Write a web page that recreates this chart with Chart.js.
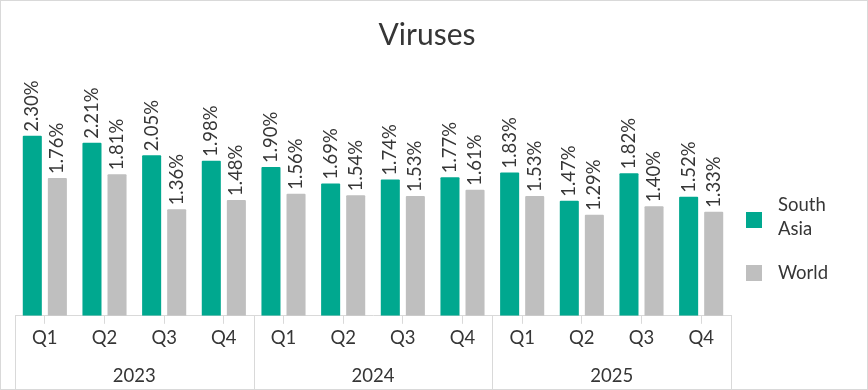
<!DOCTYPE html>
<html>
<head>
<meta charset="utf-8">
<script src="https://cdn.jsdelivr.net/npm/chart.js@4/dist/chart.umd.min.js"></script>
<style>
  html, body { margin: 0; padding: 0; background: #fff; }
  #wrap { position: relative; width: 868px; height: 390px; box-sizing: border-box; border: 1px solid #d9d9d9; }
  canvas { display: block; }
</style>
</head>
<body>
<div id="wrap"><canvas id="c"></canvas></div>
<script>
const categories = ['Q1','Q2','Q3','Q4','Q1','Q2','Q3','Q4','Q1','Q2','Q3','Q4'];
const years = ['2023','2024','2025'];
const seriesNames = ['South Asia','World'];
const southAsia = [2.30,2.21,2.05,1.98,1.90,1.69,1.74,1.77,1.83,1.47,1.82,1.52];
const world = [1.76,1.81,1.36,1.48,1.56,1.54,1.53,1.61,1.53,1.29,1.40,1.33];
const quartersPerYear = 4;
const titleText = 'Viruses';

const FONT = 'Lato, "Open Sans", sans-serif';
const TEXT = '#363636';
const TEAL = '#00A88F';
const GREY = '#BFBFBF';

const dataLabels = {
  id: 'dataLabels',
  afterDatasetsDraw(chart) {
    const ctx = chart.ctx;
    ctx.save();
    ctx.fillStyle = TEXT;
    ctx.font = '18.5px ' + FONT;
    ctx.textAlign = 'left';
    ctx.textBaseline = 'middle';
    chart.data.datasets.forEach((ds, i) => {
      const meta = chart.getDatasetMeta(i);
      meta.data.forEach((bar, j) => {
        ctx.save();
        ctx.translate(bar.x, bar.y - 4);
        ctx.rotate(-Math.PI / 2);
        ctx.fillText(ds.data[j].toFixed(2) + '%', 0, 0);
        ctx.restore();
      });
    });
    ctx.restore();
  }
};

const yearAxis = {
  id: 'yearAxis',
  afterDraw(chart) {
    const ctx = chart.ctx;
    const xs = chart.scales.x;
    const bounds = [xs.left];
    for (let g = 1; g < years.length; g++) {
      const a = xs.getPixelForValue(g * quartersPerYear - 1);
      const b = xs.getPixelForValue(g * quartersPerYear);
      bounds.push((a + b) / 2);
    }
    bounds.push(xs.right);
    ctx.save();
    ctx.strokeStyle = '#d9d9d9';
    ctx.lineWidth = 1;
    bounds.forEach(x => {
      const px = Math.round(x) + 0.5;
      ctx.beginPath();
      ctx.moveTo(px, xs.top);
      ctx.lineTo(px, chart.height);
      ctx.stroke();
    });
    ctx.fillStyle = TEXT;
    ctx.font = '18.5px ' + FONT;
    ctx.textAlign = 'center';
    ctx.textBaseline = 'middle';
    years.forEach((y, g) => {
      ctx.fillText(y, (bounds[g] + bounds[g + 1]) / 2, xs.bottom + 24);
    });
    ctx.restore();
  }
};

const sideTitleLegend = {
  id: 'sideTitleLegend',
  afterDraw(chart) {
    const ctx = chart.ctx;
    ctx.save();
    // title
    ctx.fillStyle = TEXT;
    ctx.font = '30px ' + FONT;
    ctx.textAlign = 'center';
    ctx.textBaseline = 'middle';
    ctx.fillText(titleText, 426, 34);
    // legend
    const x0 = chart.chartArea.right + 15;
    ctx.font = '18.5px ' + FONT;
    ctx.textAlign = 'left';
    const items = [
      { color: chart.data.datasets[0].backgroundColor, lines: ['South', 'Asia'], boxY: 211, textY: [204, 228] },
      { color: chart.data.datasets[1].backgroundColor, lines: [seriesNames[1]], boxY: 264, textY: [272] }
    ];
    items.forEach(it => {
      ctx.fillStyle = it.color;
      ctx.fillRect(x0, it.boxY, 16, 16);
      ctx.fillStyle = TEXT;
      it.lines.forEach((t, k) => ctx.fillText(t, x0 + 32, it.textY[k]));
    });
    ctx.restore();
  }
};

new Chart(document.getElementById('c'), {
  type: 'bar',
  data: {
    labels: categories,
    datasets: [
      { label: seriesNames[0], data: southAsia, backgroundColor: TEAL, borderRadius: 1,
        categoryPercentage: 0.84, barPercentage: 0.76 },
      { label: seriesNames[1], data: world, backgroundColor: GREY, borderRadius: 1,
        categoryPercentage: 0.84, barPercentage: 0.76 }
    ]
  },
  options: {
    responsive: true,
    maintainAspectRatio: false,
    animation: false,
    devicePixelRatio: 1,
    layout: { padding: { left: 14, right: 136, top: 80, bottom: 37 } },
    plugins: {
      legend: { display: false },
      tooltip: { enabled: false },
      title: { display: false }
    },
    scales: {
      x: {
        grid: { display: true, offset: false, drawOnChartArea: false, drawTicks: true, tickLength: 8, color: '#d9d9d9' },
        border: { display: true, color: '#d9d9d9' },
        ticks: { color: TEXT, font: { family: FONT, size: 18.5 }, padding: 3, maxRotation: 0, autoSkip: false }
      },
      y: {
        display: false,
        min: 0,
        max: 3.0
      }
    }
  },
  plugins: [dataLabels, yearAxis, sideTitleLegend]
});
</script>
</body>
</html>
